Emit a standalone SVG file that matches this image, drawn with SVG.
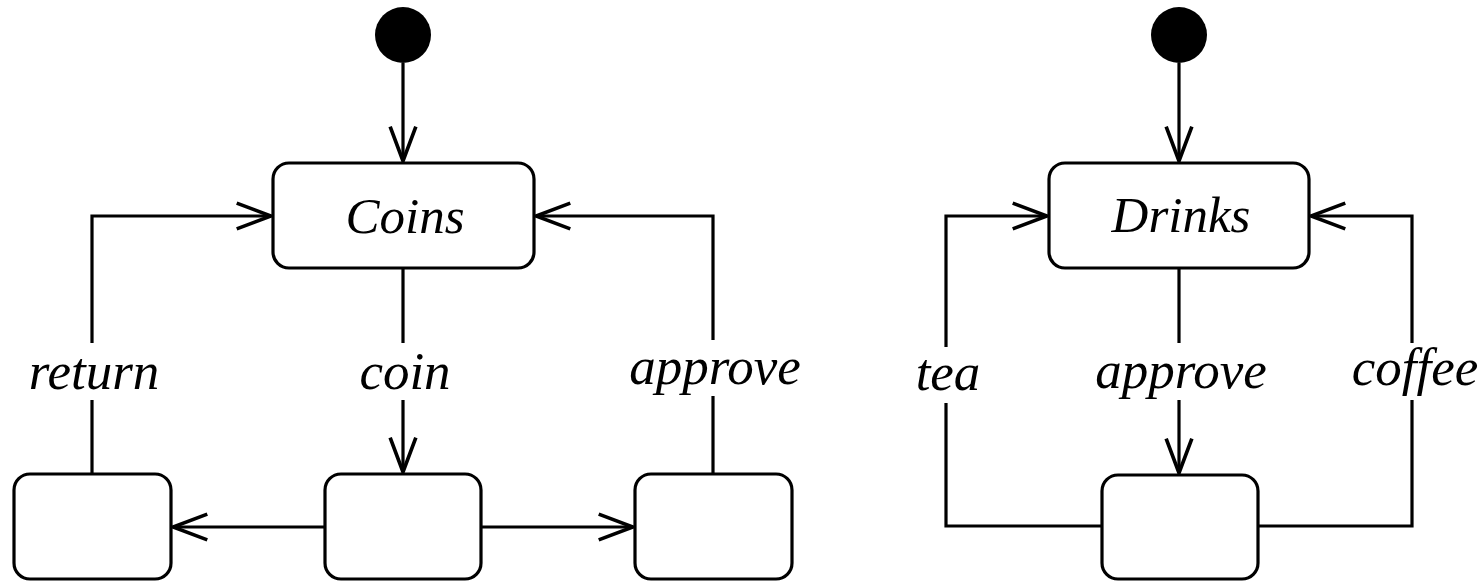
<svg xmlns="http://www.w3.org/2000/svg" width="1483" height="582" viewBox="0 0 1483 582">
<style>
.st{fill:#fff;stroke:#000;stroke-width:3.2}
.ln{fill:none;stroke:#000;stroke-width:3.2}
.lb{font-family:"Liberation Serif",serif;font-style:italic;font-size:53px;fill:#000;text-anchor:middle}
.nl{font-family:"Liberation Serif",serif;font-style:italic;font-size:51px;fill:#000;text-anchor:middle}
</style>
<defs>
<marker id="arr" markerUnits="userSpaceOnUse" markerWidth="40" markerHeight="30" viewBox="-34 -14 36 28" refX="0" refY="0" orient="auto">
<path d="M-32,-12 L0,0 L-32,12" fill="none" stroke="#000" stroke-width="3.4"/>
</marker>
</defs>
<g id="connectors">
<path class="ln" d="M403,63 V161" marker-end="url(#arr)"/>
<path class="ln" d="M403,268 V343"/>
<path class="ln" d="M403,400 V472" marker-end="url(#arr)"/>
<path class="ln" d="M92,474 V400"/>
<path class="ln" d="M92,343 V216 H271" marker-end="url(#arr)"/>
<path class="ln" d="M713,474 V396"/>
<path class="ln" d="M713,340 V216 H536" marker-end="url(#arr)"/>
<path class="ln" d="M325,527 H173" marker-end="url(#arr)"/>
<path class="ln" d="M481,527 H633" marker-end="url(#arr)"/>
<path class="ln" d="M1179,63 V161" marker-end="url(#arr)"/>
<path class="ln" d="M1179,268 V343"/>
<path class="ln" d="M1179,400 V473" marker-end="url(#arr)"/>
<path class="ln" d="M1102,526 H946 V403"/>
<path class="ln" d="M946,347 V216 H1047" marker-end="url(#arr)"/>
<path class="ln" d="M1258,526 H1412 V400"/>
<path class="ln" d="M1412,343 V216 H1311" marker-end="url(#arr)"/>
</g>
<g id="labels">
<text class="lb" x="94" y="389">return</text>
<text class="lb" x="405" y="389">coin</text>
<text class="lb" x="715" y="384">approve</text>
<text class="lb" x="948" y="390">tea</text>
<text class="lb" x="1181" y="388">approve</text>
<text class="lb" x="1415" y="385">coffee</text>
</g>
<g id="init1"><circle cx="403" cy="35" r="28" fill="#000"/></g>
<g id="init2"><circle cx="1179" cy="35" r="28" fill="#000"/></g>
<g id="coins"><rect class="st" x="273" y="163" width="261" height="105" rx="16"/><text class="nl" x="405" y="233">Coins</text></g>
<g id="drinks"><rect class="st" x="1049" y="163" width="260" height="105" rx="16"/><text class="nl" x="1181" y="232">Drinks</text></g>
<g id="n1"><rect class="st" x="14" y="474" width="157" height="105" rx="16"/></g>
<g id="n2"><rect class="st" x="325" y="474" width="156" height="105" rx="16"/></g>
<g id="n3"><rect class="st" x="635" y="474" width="157" height="105" rx="16"/></g>
<g id="n4"><rect class="st" x="1102" y="475" width="156" height="104" rx="16"/></g>
</svg>
